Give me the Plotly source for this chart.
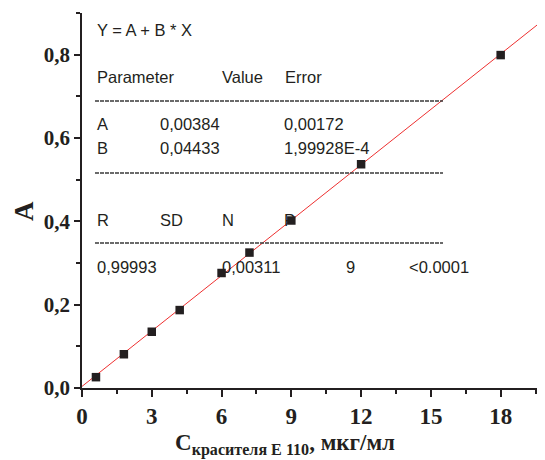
import plotly.graph_objects as go

# Data
conc = [0.6, 1.8, 3.0, 4.2, 6.0, 7.2, 9.0, 12.0, 18.0]
absorb = [0.026, 0.081, 0.135, 0.187, 0.276, 0.325, 0.402, 0.537, 0.799]
fit_A = 0.00384
fit_B = 0.04433
fit_x = [0.0, 19.82]
fit_y = [fit_A + fit_B * v for v in fit_x]

x_ticks = [0, 3, 6, 9, 12, 15, 18]
y_ticks = [0.0, 0.2, 0.4, 0.6, 0.8]
y_ticktext = ["0,0", "0,2", "0,4", "0,6", "0,8"]

INK = "#231f20"
OFF = 8  # page body margin
W, H = 545 - OFF, 460 - OFF
L, R, T, B = 82 - OFF, 2, 13 - OFF, 72
PW, PH = W - L - R, H - T - B

def px(x):
    return (x - OFF - L) / PW

def py(y):
    return (H - B - (y - OFF)) / PH

fig = go.Figure()
fig.add_trace(go.Scatter(x=fit_x, y=fit_y, mode="lines",
                         line=dict(color="#ee3030", width=1), hoverinfo="skip"))
fig.add_trace(go.Scatter(x=conc, y=absorb, mode="markers",
                         marker=dict(symbol="square", size=8.5, color=INK)))

txt_font = dict(family="Liberation Sans, Arial", size=16.5, color=INK)
rows = [
    (30, [(95, "Y = A + B * X")]),
    (77, [(95, "Parameter"), (220, "Value"), (283, "Error")]),
    (124, [(95, "A"), (158, "0,00384"), (282, "0,00172")]),
    (148, [(95, "B"), (158, "0,04433"), (282, "1,99928E-4")]),
    (220, [(95, "R"), (158, "SD"), (220, "N"), (282, "P")]),
    (267, [(95, "0,99993"), (220, "0,00311"), (344, "9"), (407, "<0.0001")]),
]
annotations = []
for yy, items in rows:
    for xx, t in items:
        annotations.append(dict(x=px(xx), y=py(yy), xref="paper", yref="paper",
                                text=t, showarrow=False, xanchor="left",
                                yanchor="middle", font=txt_font))

# axis titles
annotations.append(dict(x=px(24), y=py(211), xref="paper", yref="paper", text="A",
                        showarrow=False, textangle=-90, xanchor="center", yanchor="middle",
                        font=dict(family="Liberation Serif", size=27, color=INK, weight="bold")))
annotations.append(dict(x=px(285), y=py(444), xref="paper", yref="paper",
                        text="C<sub>красителя E 110</sub>, мкг/мл",
                        showarrow=False, xanchor="center", yanchor="middle",
                        font=dict(family="Liberation Serif", size=23, color=INK, weight="bold")))

shapes = []
for yy in (101, 173, 243):
    shapes.append(dict(type="line", xref="paper", yref="paper",
                       x0=px(95), x1=px(443), y0=py(yy), y1=py(yy),
                       line=dict(color="#3a3a3a", width=1.5, dash="4px,1px")))

fig.update_layout(
    width=W, height=H, margin=dict(l=L, r=R, t=T, b=B),
    paper_bgcolor="white", plot_bgcolor="white", showlegend=False,
    annotations=annotations, shapes=shapes,
)
xtickfont = dict(family="Liberation Serif", size=23, color=INK, weight="bold")
ytickfont = dict(family="Liberation Serif", size=21, color=INK, weight="bold")
fig.update_xaxes(range=[0, 19.82], tickvals=x_ticks, ticks="outside", ticklen=7,
                 tickwidth=1.5, tickcolor=INK, showline=True, linewidth=1.5, linecolor=INK,
                 showgrid=False, zeroline=False, tickfont=xtickfont,
                 minor=dict(dtick=1.5, tick0=0, ticks="outside", ticklen=4, tickwidth=1.5,
                            tickcolor=INK, showgrid=False))
fig.update_yaxes(range=[0, 0.9], tickvals=y_ticks, ticktext=y_ticktext, ticks="outside",
                 ticklen=6, tickwidth=1.5, tickcolor=INK, showline=True, linewidth=1.5,
                 linecolor=INK, showgrid=False, zeroline=False, tickfont=ytickfont,
                 minor=dict(dtick=0.1, tick0=0, ticks="outside", ticklen=4, tickwidth=1.5,
                            tickcolor=INK, showgrid=False))

fig.write_html("out.html")
